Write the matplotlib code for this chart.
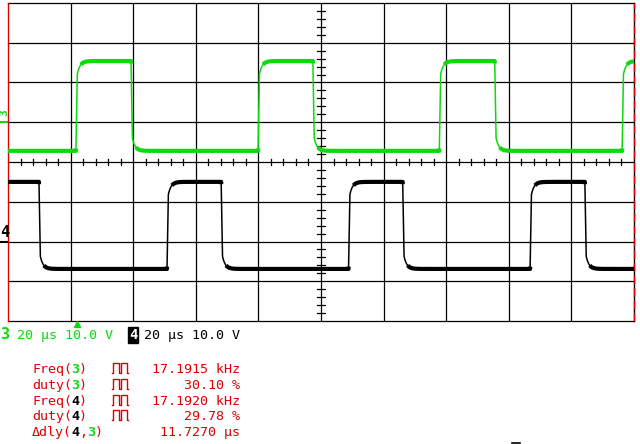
import numpy as np
import matplotlib
matplotlib.use("Agg")
import matplotlib.pyplot as plt
from matplotlib.lines import Line2D

# ---- scope settings ----
time_per_div = 20.0      # us/div
volts_per_div = 10.0     # V/div
n_xdiv, n_ydiv = 10, 8

# channel 3 (green) and channel 4 (black): offsets in divisions, levels in volts
ch3_offset = 1.0
ch4_offset = -2.0
ch3_high, ch3_low = 15.4, -7.2
ch4_high, ch4_low = 15.0, -6.9

# edge times in us (t=0 is screen centre), alternating from the start state
ch3_start_high = False
ch3_edges = [-78.3, -60.7, -20.1, -2.6, 37.8, 55.5, 96.2]
ch4_start_high = True
ch4_edges = [-90.1, -49.2, -31.9, 8.8, 26.1, 66.8, 84.3]

header_left = "20 \u00b5s 10.0 V"
header_right = "20 \u00b5s 10.0 V"
meas_names = ["Freq(", "duty(", "Freq(", "duty(", "\u0394dly("]
meas_values = ["17.1915 kHz", "30.10 %", "17.1920 kHz", "29.78 %", "11.7270 \u00b5s"]

GREEN = "#10d810"
RED = "#dd0000"
W, H = 640, 444


def fx(px):
    return px / W


def fy(py):
    return 1 - py / H


def settle(dt):
    out = np.zeros_like(dt)
    ramp = (dt >= 0) & (dt < 0.4)
    out[ramp] = 0.85 * dt[ramp] / 0.4
    tail = dt >= 0.4
    out[tail] = 1 - 0.15 * np.exp(-(dt[tail] - 0.4) / 0.9)
    return out


def build_trace(t, edges, start_high, hi, lo):
    levels = [hi, lo] if start_high else [lo, hi]
    v = np.full_like(t, levels[0])
    cur = levels[0]
    for k, te in enumerate(edges):
        new = levels[(k + 1) % 2]
        m = t >= te
        v[m] = cur + (new - cur) * settle(t[m] - te)
        cur = new
    return v


fig = plt.figure(figsize=(6.4, 4.44), dpi=100)
fig.patch.set_facecolor("white")
ax = fig.add_axes([fx(8), fy(321), 626 / W, 318 / H])
xmax = time_per_div * n_xdiv / 2
ax.set_xlim(-xmax, xmax)
ax.set_ylim(-n_ydiv / 2, n_ydiv / 2)
ax.axis("off")

# graticule
for i in range(-n_xdiv // 2 + 1, n_xdiv // 2):
    ax.axvline(i * time_per_div, color="black", lw=0.9, zorder=1)
for j in range(-n_ydiv // 2, n_ydiv // 2 + 1):
    ax.axhline(j, color="black", lw=0.9, zorder=1, clip_on=False)
ax.axvline(-xmax, color=RED, lw=1.0, zorder=3, clip_on=False)
ax.axvline(xmax, color="black", lw=1.0, zorder=3, clip_on=False)
ax.axvline(xmax, color=RED, lw=1.0, ls=(0, (6, 3)), zorder=4, clip_on=False)

# minor ticks on centre lines
for k in range(-n_xdiv * 5 // 2 + 1, n_xdiv * 5 // 2):
    if k % 5:
        ax.plot([k * time_per_div / 5] * 2, [-0.075, 0.075], color="black", lw=0.9, zorder=1)
for k in range(-n_ydiv * 5 // 2 + 1, n_ydiv * 5 // 2):
    if k % 5:
        ax.plot([-1.3, 1.3], [k / 5] * 2, color="black", lw=0.9, zorder=1)

# traces
t = np.linspace(-xmax, xmax, 16001)
for edges, start, hi, lo, off, col in [
    (ch3_edges, ch3_start_high, ch3_high, ch3_low, ch3_offset, GREEN),
    (ch4_edges, ch4_start_high, ch4_high, ch4_low, ch4_offset, "black"),
]:
    v = build_trace(t, edges, start, hi, lo)
    y = v / volts_per_div + off
    ax.plot(t, y, color=col, lw=1.1, zorder=5)
    flat = np.isclose(v, hi, atol=0.9) | np.isclose(v, lo, atol=0.9)
    ax.plot(t, np.where(flat, y, np.nan), color=col, lw=3.0, zorder=5,
            solid_capstyle="butt")

# ground markers at left
ax.plot([-xmax - 2.6, -xmax], [ch3_offset] * 2, color=GREEN, lw=1.5, clip_on=False)
ax.plot([-xmax - 2.6, -xmax], [ch4_offset] * 2, color="black", lw=1.5, clip_on=False)
fig.text(fx(4.5), fy(113), "3", color=GREEN, fontsize=8, fontweight="bold",
         family="DejaVu Sans Mono", rotation=90, ha="center", va="center")
fig.text(fx(4.5), fy(232), "4", color="black", fontsize=11, fontweight="bold",
         family="DejaVu Sans Mono", ha="center", va="center")

# header line
mono = dict(family="DejaVu Sans Mono", fontsize=9.6)
fig.text(fx(0.5), fy(339), "3", color=GREEN, fontweight="bold", va="baseline",
         family="DejaVu Sans Mono", fontsize=11)
fig.text(fx(17), fy(339), header_left, color=GREEN, va="baseline", **mono)
fig.text(fx(129), fy(339), "4", color="white", fontweight="bold", va="baseline",
         family="DejaVu Sans Mono", fontsize=10,
         bbox=dict(boxstyle="square,pad=0.05", fc="black", ec="black"))
fig.text(fx(144), fy(339), header_right, color="black", va="baseline", **mono)
fig.add_artist(Line2D([fx(77)], [fy(324)], marker="^", color=GREEN, ms=5, mec=GREEN))

# measurement block
cw = 7.85
x0 = 32
baselines = [373, 388.5, 405, 420, 436]
arg_parts = [
    [("3", GREEN)],
    [("3", GREEN)],
    [("4", "black")],
    [("4", "black")],
    [("4", "black"), (",", RED), ("3", GREEN)],
]
for k, yb in enumerate(baselines):
    name = meas_names[k]
    fig.text(fx(x0), fy(yb), name, color=RED, va="baseline", **mono)
    col = len(name)
    for ch, c in arg_parts[k]:
        fw = "bold" if ch.isdigit() else "normal"
        fig.text(fx(x0 + col * cw), fy(yb), ch, color=c, va="baseline",
                 fontweight=fw, **mono)
        col += 1
    fig.text(fx(x0 + col * cw), fy(yb), ")", color=RED, va="baseline", **mono)
    if k < 4:
        sx, sw, sh = 112, 16, 10
        xs = np.array([0, 0.08, 0.08, 0.42, 0.42, 0.58, 0.58, 0.92, 0.92, 1.0])
        ys = np.array([0, 0, 1, 1, 0, 0, 1, 1, 0, 0])
        fig.add_artist(Line2D(fx(sx + xs * sw), fy(yb - ys * sh), color=RED, lw=1.0))
    fig.text(fx(240), fy(yb), meas_values[k], color=RED, va="baseline", ha="right", **mono)

fig.add_artist(Line2D([fx(512), fx(520)], [fy(442.5)] * 2, color="black", lw=1.2))

fig.savefig("out.png", dpi=100)
